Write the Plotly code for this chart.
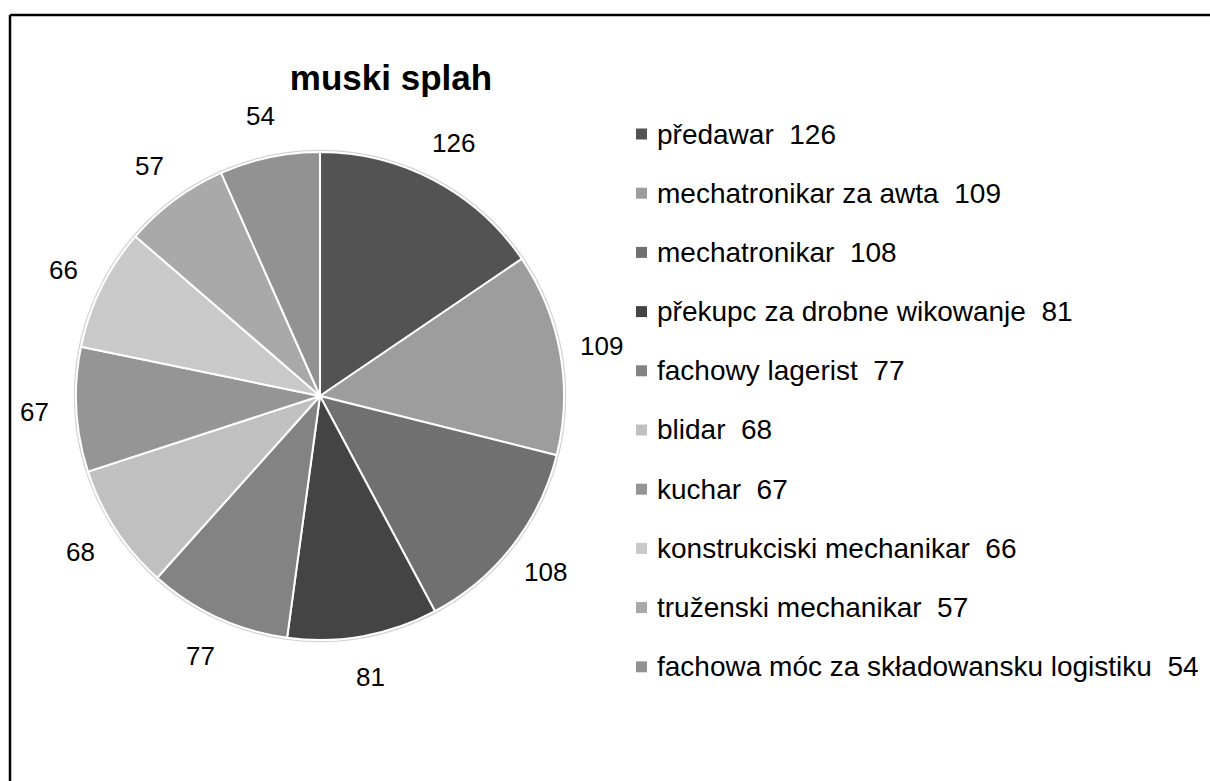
import math
import plotly.graph_objects as go

# ---- data ----
categories = [
    "předawar",
    "mechatronikar za awta",
    "mechatronikar",
    "překupc za drobne wikowanje",
    "fachowy lagerist",
    "blidar",
    "kuchar",
    "konstrukciski mechanikar",
    "truženski mechanikar",
    "fachowa móc za składowansku logistiku",
]
values = [126, 109, 108, 81, 77, 68, 67, 66, 57, 54]
colors = ["#535353", "#9d9d9d", "#707070", "#444444", "#838383",
          "#c0c0c0", "#959595", "#c9c9c9", "#a9a9a9", "#929292"]
title_text = "muski splah"

# ---- layout constants ----
W, H = 1210, 781
CX, CY, R = 320, 396, 244          # pie centre / radius in pixels (from top-left)
LABEL_R = 286                      # radius of the data-label centres
FONT = "Liberation Sans, Arial, sans-serif"
LEG_X, LEG_Y0, LEG_DY = 636, 134, 59.2

fig = go.Figure()
fig.add_trace(go.Pie(
    labels=categories,
    values=values,
    sort=False,
    direction="clockwise",
    rotation=0,
    textinfo="none",
    marker=dict(colors=colors, line=dict(color="white", width=2)),
    domain=dict(x=[(CX - R) / W, (CX + R) / W],
                y=[(H - CY - R) / H, (H - CY + R) / H]),
    showlegend=False,
    hoverinfo="label+value",
))

annotations = []
shapes = []

# faint outer rim around the pie
shapes.append(dict(type="circle", xref="paper", yref="paper", layer="below",
                   x0=(CX - R - 1.5) / W, x1=(CX + R + 1.5) / W,
                   y0=1 - (CY + R + 1.5) / H, y1=1 - (CY - R - 1.5) / H,
                   line=dict(color="#d4d4d4", width=1.5), fillcolor="white"))

# data labels placed outside the slices at their mid-angles
total = sum(values)
cum = 0
for v in values:
    mid = (cum + v / 2) / total * 2 * math.pi
    cum += v
    px = CX + LABEL_R * math.sin(mid)
    py = CY - LABEL_R * math.cos(mid)
    annotations.append(dict(
        x=px / W, y=1 - py / H, xref="paper", yref="paper",
        text=str(v), showarrow=False, xanchor="center", yanchor="middle",
        font=dict(family=FONT, size=26, color="#000000"),
    ))

# legend (square markers + text)
for i, (c, v, col) in enumerate(zip(categories, values, colors)):
    yc = LEG_Y0 + i * LEG_DY
    shapes.append(dict(
        type="rect", xref="paper", yref="paper",
        x0=LEG_X / W, x1=(LEG_X + 11) / W,
        y0=1 - (yc + 5.5) / H, y1=1 - (yc - 5.5) / H,
        fillcolor=col, line=dict(width=0),
    ))
    annotations.append(dict(
        x=(LEG_X + 19) / W, y=1 - yc / H, xref="paper", yref="paper",
        text=f"{c}  {v}", showarrow=False, xanchor="left", yanchor="middle",
        font=dict(family=FONT, size=28, color="#000000"),
    ))

# chart-area frame (top and left edges visible)
shapes.append(dict(type="line", xref="paper", yref="paper",
                   x0=10 / W, x1=1.01, y0=1 - 15 / H, y1=1 - 15 / H,
                   line=dict(color="#000000", width=2.5)))
shapes.append(dict(type="line", xref="paper", yref="paper",
                   x0=10 / W, x1=10 / W, y0=-0.01, y1=1 - 15 / H,
                   line=dict(color="#000000", width=2.5)))

fig.update_layout(
    width=W, height=H,
    margin=dict(l=0, r=0, t=0, b=0),
    paper_bgcolor="white",
    plot_bgcolor="white",
    title=dict(text=f"<b>{title_text}</b>", x=391 / W, y=1 - 78 / H,
               xanchor="center", yanchor="middle",
               font=dict(family=FONT, size=35, color="#000000")),
    annotations=annotations,
    shapes=shapes,
    showlegend=False,
)

fig.write_html("out.html",
               config={"displayModeBar": False},
               post_script="document.body.style.margin='0';document.body.style.padding='0';")
